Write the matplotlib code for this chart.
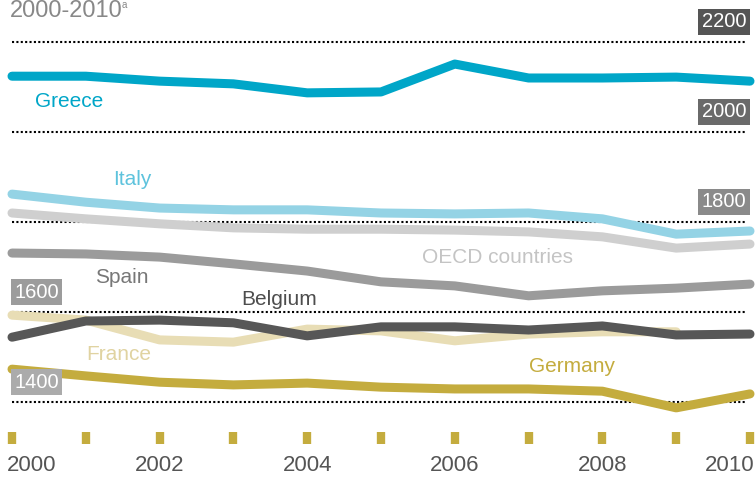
import matplotlib.pyplot as plt
import numpy as np

plt.rcParams['font.family'] = ['Liberation Sans', 'DejaVu Sans']

years = np.arange(2000, 2011)

greece = [2124, 2124, 2113, 2107, 2087, 2089, 2151, 2120, 2120, 2122, 2113]
italy = [1862, 1844, 1831, 1827, 1827, 1820, 1818, 1820, 1807, 1773, 1780]
oecd = [1820, 1807, 1796, 1787, 1784, 1784, 1782, 1778, 1767, 1742, 1751]
spain = [1731, 1729, 1722, 1707, 1691, 1667, 1658, 1636, 1647, 1653, 1662]
belgium = [1544, 1580, 1582, 1576, 1547, 1567, 1567, 1560, 1569, 1549, 1551]
france = [1593, 1582, 1538, 1533, 1562, 1558, 1536, 1551, 1556, 1556]
germany = [1473, 1458, 1444, 1438, 1442, 1433, 1429, 1429, 1424, 1387, 1418]

grid_values = [2200, 2000, 1800, 1600, 1400]
tick_years = [2000, 2002, 2004, 2006, 2008, 2010]

# pixel mapping helpers (figure is 755x479 px)
px_per_year = 73.8
px_per_unit = 0.45

fig = plt.figure(figsize=(7.55, 4.79), dpi=100)
ax = fig.add_axes([0, 0, 1, 1])
ax.set_xlim(2000 - 12 / px_per_year, 2010 + 5 / px_per_year)
ax.set_ylim(1400 - 77 / px_per_unit, 1400 + 402 / px_per_unit)
ax.axis('off')

def dy(px):
    return px / px_per_unit

def dx(px):
    return px / px_per_year

def ypix(py):
    # value at pixel row py (from top)
    return 1400 + dy(402 - py)

# gridlines
for v in grid_values:
    ax.plot([2000, 2009.93], [v, v], color='black', lw=1.5,
            linestyle=(0, (1, 1.1)), zorder=1)

# series, drawn back to front
series = [
    (france, '#e8ddb5'),
    (oecd, '#cfcfcf'),
    (italy, '#94d3e5'),
    (spain, '#9b9b9b'),
    (germany, '#c4ac3e'),
    (belgium, '#575757'),
    (greece, '#00a6c8'),
]
for vals, col in series:
    ax.plot(years[:len(vals)], vals, color=col, lw=6.5,
            solid_capstyle='round', solid_joinstyle='round', zorder=3)

# series labels
labels = [
    ('Greece', 2000.31, ypix(102), '#00a6c8'),
    ('Italy', 2001.37, ypix(180), '#5ec3dd'),
    ('OECD countries', 2005.55, ypix(258), '#c4c4c4'),
    ('Spain', 2001.12, ypix(278), '#777777'),
    ('Belgium', 2003.1, ypix(300), '#4d4d4d'),
    ('France', 2001.0, ypix(355), '#e0d3a1'),
    ('Germany', 2007.0, ypix(367), '#c4ac3e'),
]
for text, x, y, col in labels:
    ax.text(x, y, text, color=col, fontsize=15, ha='left', va='center', zorder=4)

# value boxes
box_specs = [
    (2200, 2009.95, 'right', '#555555'),
    (2000, 2009.95, 'right', '#6a6a6a'),
    (1800, 2009.95, 'right', '#8a8a8a'),
    (1600, 2000.03, 'left', '#9c9c9c'),
    (1400, 2000.03, 'left', '#ababab'),
]
for v, x, ha, col in box_specs:
    ax.text(x, v + dy(20), str(v), color='white', fontsize=14.5, ha=ha,
            va='center', zorder=5,
            bbox=dict(boxstyle='square,pad=0.17', fc=col, ec='none'))

# year ticks
ax.vlines(years, 1400 - dy(30), 1400 - dy(42), color='#c4ac3e', lw=6,
          zorder=2)
for yr in tick_years:
    if yr == 2000:
        x, ha = 2000 - dx(5), 'left'
    elif yr == 2010:
        x, ha = 2010 + dx(4), 'right'
    else:
        x, ha = yr, 'center'
    ax.text(x, 1400 - dy(64), str(yr), color='#555555', fontsize=16,
            ha=ha, va='center')

# title (cut off at top)
ax.text(2000 - dx(2), ypix(11), '2000-2010', color='#888888',
        fontsize=17, ha='left', va='center')
ax.text(2000 - dx(2) + dx(112), ypix(5), 'a', color='#888888',
        fontsize=7, ha='left', va='center')

fig.savefig('out.png', dpi=100)
